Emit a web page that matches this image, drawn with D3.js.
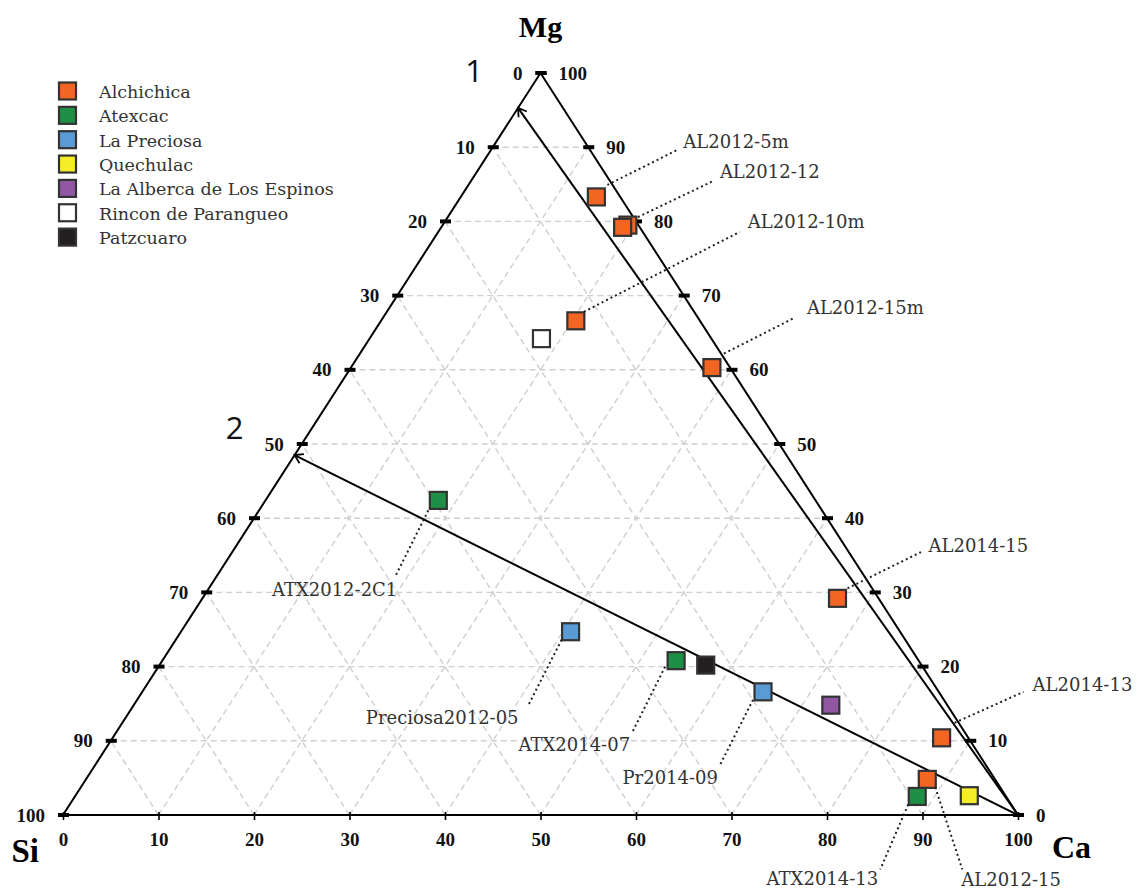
<!DOCTYPE html>
<html><head><meta charset="utf-8">
<script src="https://cdn.jsdelivr.net/npm/d3@7"></script>
<style>body{margin:0;background:#fff} svg{display:block}</style>
</head><body>
<svg id="chart" width="1138" height="890"></svg>
<script>
// ---------- data ----------
const lakes = ["Alchichica","Atexcac","La Preciosa","Quechulac","La Alberca de Los Espinos","Rincon de Parangueo","Patzcuaro"];
const lakeColors = ["#f26522","#1f8f45","#5b9bd5","#f5ec2a","#9157a3","#ffffff","#231f20"];

const sampleLabels = ["AL2012-12","","AL2012-5m","AL2012-10m","AL2012-15m","AL2014-15","AL2014-13","AL2012-15",
                      "ATX2012-2C1","ATX2014-07","ATX2014-13","Preciosa2012-05","Pr2014-09","","","",""];
const sampleLake   = [0,0,0,0,0,0,0,0, 1,1,1, 2,2, 3,4,5,6];
const sampleSi = [1.1, 1.8, 2.5, 13.0, 1.9, 4.3, 2.8, 7.1, 39.5, 25.4, 9.3, 34.5, 18.4, 3.8, 12.2, 17.8, 22.6];
const sampleMg = [79.5,79.2,83.3, 66.6,60.3,29.2,10.4, 4.8, 42.4, 20.8, 2.5, 24.7, 16.6, 2.6, 14.8, 64.2, 20.2];
const sampleCa = [19.4,19.0,14.2, 20.4,37.8,66.5,86.8,88.1, 18.1, 53.8, 88.2, 40.8, 65.0, 93.6, 73.0, 18.0, 57.2];

const tickValues = [0,10,20,30,40,50,60,70,80,90,100];
const vertexLabels = ["Si","Ca","Mg"];

// trend lines: from Ca apex to a point on the Si–Mg edge
const trendLabels = ["1","2"];
const trendSi = [4.7, 51.5];
const trendMg = [95.3, 48.5];

// ---------- layout (offsets relative to points) ----------
const annoLayout = {
  "AL2012-12":      {s:[10,-8],  e:[85,-44],  t:[92,-53],  a:"start"},
  "AL2012-5m":      {s:[11,-12], e:[81,-47],  t:[87,-55],  a:"start"},
  "AL2012-10m":     {s:[8,-9],   e:[164,-89], t:[172,-99], a:"start"},
  "AL2012-15m":     {s:[12,-14], e:[83,-50],  t:[95,-60],  a:"start"},
  "AL2014-15":      {s:[10,-10], e:[85,-47],  t:[91,-53],  a:"start"},
  "AL2014-13":      {s:[13,-15], e:[82,-46],  t:[91,-53],  a:"start"},
  "AL2012-15":      {s:[8,8],    e:[35,90],   t:[34,100],  a:"start"},
  "ATX2012-2C1":    {s:[-10,10], e:[-43,76],  t:[-41,89],  a:"end"},
  "ATX2014-07":     {s:[-11,6],  e:[-44,72],  t:[-46,84],  a:"end"},
  "ATX2014-13":     {s:[-9,8],   e:[-37,73],  t:[-39,82],  a:"end"},
  "Preciosa2012-05":{s:[-9,8],   e:[-42,73],  t:[-52,86],  a:"end"},
  "Pr2014-09":      {s:[-10,8],  e:[-43,73],  t:[-45,86],  a:"end"}
};

const svg = d3.select("#chart");
const x = d3.scaleLinear().domain([0,100]).range([63,1018]);
const y = d3.scaleLinear().domain([0,100]).range([815,73]);
function pt(si, mg, ca){
  const s = si+mg+ca, m = mg/s*100, c = ca/s*100;
  return [x(c + m/2), y(m)];
}
const line = d3.line();

// grid
const grid = svg.append("g").attr("fill","none").attr("stroke","#cfcfcf")
  .attr("stroke-width",1.4).attr("stroke-dasharray","6,4");
d3.range(10,100,10).forEach(k=>{
  grid.append("path").attr("d", line([pt(100-k,k,0), pt(0,k,100-k)]));
  grid.append("path").attr("d", line([pt(100-k,0,k), pt(0,100-k,k)]));
  grid.append("path").attr("d", line([pt(k,0,100-k), pt(k,100-k,0)]));
});

// triangle
svg.append("path").attr("d", line([pt(100,0,0), pt(0,0,100), pt(0,100,0)]) + "Z")
  .attr("fill","none").attr("stroke","#000").attr("stroke-width",2);

// bottom axis (Ca)
const axis = svg.append("g").attr("transform","translate(0,812)")
  .call(d3.axisBottom(x).tickValues(tickValues).tickSize(8).tickPadding(13));
axis.select(".domain").remove();
axis.selectAll("line").attr("stroke","#000").attr("stroke-width",1.6);
axis.selectAll("text").attr("font-family","'Liberation Serif', serif").attr("font-weight","bold")
  .attr("font-size",19).attr("fill","#111");

// side ticks
const side = svg.append("g").attr("font-family","'Liberation Serif', serif").attr("font-weight","bold")
  .attr("font-size",19).attr("fill","#111");
tickValues.forEach(m=>{
  const L = pt(100-m, m, 0), R = pt(0, m, 100-m);
  side.append("rect").attr("x",L[0]-5).attr("y",L[1]-2).attr("width",11).attr("height",4).attr("fill","#000");
  side.append("rect").attr("x",R[0]-5).attr("y",R[1]-2).attr("width",11).attr("height",4).attr("fill","#000");
  side.append("text").attr("x",L[0]-18).attr("y",L[1]).attr("dy","0.35em").attr("text-anchor","end").text(100-m);
  side.append("text").attr("x",R[0]+18).attr("y",R[1]).attr("dy","0.35em").attr("text-anchor","start").text(m);
});

// trend lines with arrows
const defs = svg.append("defs");
defs.append("marker").attr("id","chev").attr("viewBox","-10 -7 12 14")
  .attr("refX",0).attr("refY",0).attr("markerWidth",12).attr("markerHeight",14)
  .attr("markerUnits","userSpaceOnUse").attr("orient","auto")
  .append("path").attr("d","M-8,-5L0,0L-8,5").attr("fill","none").attr("stroke","#000").attr("stroke-width",1.8);
const trendLabelOffset = [[-44,-26],[-60,-16]];
trendLabels.forEach((lab,i)=>{
  const a = pt(0,0,100), b = pt(trendSi[i], trendMg[i], 0);
  svg.append("path").attr("d", line([a,b])).attr("fill","none").attr("stroke","#000")
    .attr("stroke-width",2).attr("marker-end","url(#chev)");
  svg.append("text").attr("x", b[0]+trendLabelOffset[i][0]).attr("y", b[1]+trendLabelOffset[i][1])
    .attr("text-anchor","middle").attr("font-family","'Open Sans', 'DejaVu Sans', sans-serif")
    .attr("font-size",31).attr("fill","#111").text(lab);
});

// vertex labels
const vpos = [pt(100,0,0), pt(0,0,100), pt(0,100,0)];
const voff = [[-24,47,"end",33],[34,43,"start",32],[0,-36,"middle",30]];
vertexLabels.forEach((v,i)=>{
  svg.append("text").attr("x",vpos[i][0]+voff[i][0]).attr("y",vpos[i][1]+voff[i][1])
    .attr("text-anchor",voff[i][2]).attr("font-family","'Liberation Serif', serif")
    .attr("font-weight","bold").attr("font-size",voff[i][3]).attr("fill","#000").text(v);
});

// samples
const samples = sampleLabels.map((lab,i)=>({lab, lake:sampleLake[i], p:pt(sampleSi[i],sampleMg[i],sampleCa[i])}));
const size = 17;
svg.append("g").selectAll("rect").data(samples).join("rect")
  .attr("x",d=>d.p[0]-size/2).attr("y",d=>d.p[1]-size/2).attr("width",size).attr("height",size)
  .attr("fill",d=>lakeColors[d.lake]).attr("stroke","#333").attr("stroke-width",2.2);

// annotations
const anno = svg.append("g");
samples.filter(d=>d.lab).forEach(d=>{
  const L = annoLayout[d.lab];
  anno.append("path").attr("d", line([[d.p[0]+L.s[0], d.p[1]+L.s[1]],[d.p[0]+L.e[0], d.p[1]+L.e[1]]]))
    .attr("stroke","#222").attr("stroke-width",2).attr("stroke-dasharray","2,3").attr("fill","none");
  anno.append("text").attr("x",d.p[0]+L.t[0]).attr("y",d.p[1]+L.t[1]).attr("dy","0.35em")
    .attr("text-anchor",L.a).attr("font-family","'DejaVu Serif', serif").attr("font-size",18)
    .attr("fill","#333").text(d.lab);
});

// legend
const lg = svg.append("g");
lakes.forEach((name,i)=>{
  const cy = 91 + i*24.35;
  lg.append("rect").attr("x",59).attr("y",cy-8.5).attr("width",17).attr("height",17)
    .attr("fill",lakeColors[i]).attr("stroke","#333").attr("stroke-width",2.2);
  lg.append("text").attr("x",99).attr("y",cy+7).attr("font-family","'DejaVu Serif', serif")
    .attr("font-size",17.5).attr("fill","#333").text(name);
});
</script>
</body></html>
